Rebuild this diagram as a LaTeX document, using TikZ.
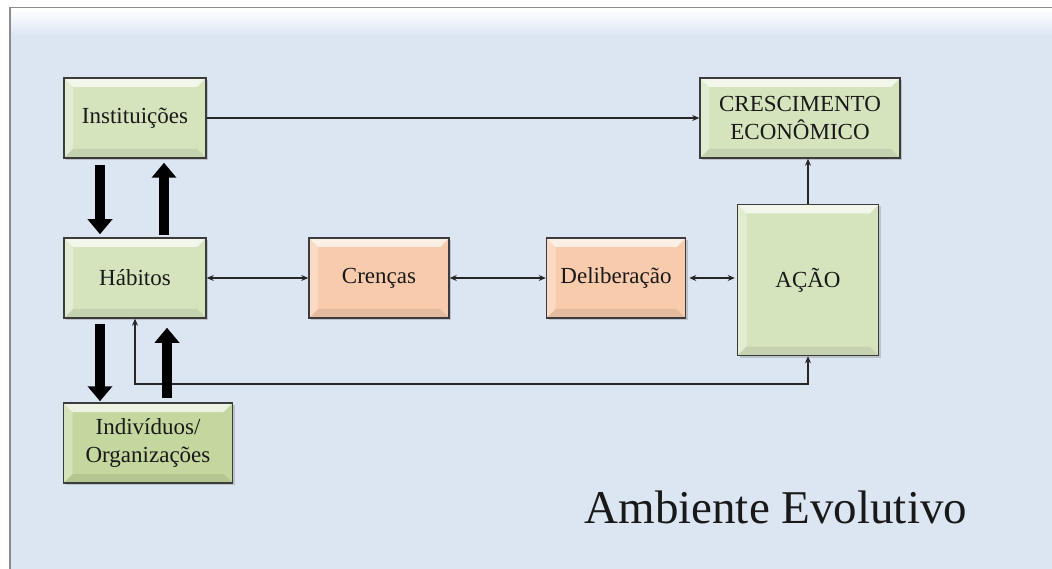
\documentclass[tikz,border=0pt]{standalone}
\usepackage{fontspec}
\setmainfont{Liberation Serif}
\usetikzlibrary{arrows.meta,shadows}
\definecolor{fundo}{RGB}{220,230,242}
\definecolor{verde}{RGB}{214,228,190}
\definecolor{verdeesc}{RGB}{196,215,158}
\definecolor{laranja}{RGB}{248,203,173}
\definecolor{borda}{RGB}{60,60,60}

\begin{document}
\begin{tikzpicture}[x=1pt, y=-1pt, >={Stealth[length=7pt,width=6pt]},
  box/.style={rectangle, draw=borda, line width=1.5pt, text=black!90, align=center,
    font=\fontsize{23}{28}\selectfont, inner sep=0pt, minimum height=80pt,
    drop shadow={opacity=0.35, shadow xshift=2pt, shadow yshift=-2pt},
    path picture={
      \fill[white, opacity=0.7] (path picture bounding box.north west) -- (path picture bounding box.north east)
        -- ([shift={(-9pt,-9pt)}]path picture bounding box.north east) -- ([shift={(9pt,-9pt)}]path picture bounding box.north west) -- cycle;
      \fill[white, opacity=0.3] (path picture bounding box.north west) -- ([shift={(9pt,-9pt)}]path picture bounding box.north west)
        -- ([shift={(9pt,9pt)}]path picture bounding box.south west) -- (path picture bounding box.south west) -- cycle;
      \fill[black, opacity=0.08] (path picture bounding box.south west) -- (path picture bounding box.south east)
        -- ([shift={(-9pt,9pt)}]path picture bounding box.south east) -- ([shift={(9pt,9pt)}]path picture bounding box.south west) -- cycle;}},
  greenbox/.style={box, fill=verde},
  orangebox/.style={box, fill=laranja},
  link/.style={draw=black!85, line width=1.2pt},
  bigarrow/.style={line width=10pt, -{Triangle[length=15pt,width=24pt]}}]
  \useasboundingbox (0,0) rectangle (1052,569);
  \fill[white] (0,0) rectangle (1052,569);
  \draw[fill=fundo, draw=black!45, line width=1.2pt] (10,8) rectangle (1070,590);
  \shade[top color=white, bottom color=fundo] (11,9) rectangle (1052,36);

  \node[greenbox, minimum width=142pt] (inst) at (135,118) {Instituições};
  \node[greenbox, minimum width=142pt] (hab) at (135,278) {Hábitos};
  \node[greenbox, fill=verdeesc, minimum width=169pt] (ind) at (148,443) {Indivíduos/\\Organizações};
  \node[orangebox, minimum width=140pt] (cren) at (379,278) {Crenças};
  \node[orangebox, minimum width=139pt] (delib) at (616,278) {Deliberação};
  \node[greenbox, minimum width=141pt, minimum height=151pt] (acao) at (808,280) {AÇÃO};
  \node[greenbox, minimum width=200pt] (cresc) at (800,118) {CRESCIMENTO\\ECONÔMICO};
  \node[anchor=base west, font=\fontsize{47}{56}\selectfont, text=black!90] (amb) at (581,523) {Ambiente Evolutivo};

  \draw[link, ->] (inst.east) -- (cresc.west);
  \draw[link, <->] (hab.east) -- (cren.west);
  \draw[link, <->] (cren.east) -- (delib.west);
  \draw[link, <->, shorten <=3pt, shorten >=2pt] (delib.east) -- (delib.east -| acao.west);
  \draw[link, ->] (acao.north) -- (acao.north |- cresc.south);
  \coordinate (fb) at (470,384);
  \draw[link, <->] (hab.south) |- (fb) -| (acao.south);

  \draw[bigarrow] ([xshift=-35pt, yshift=-6pt]inst.south) -- ([xshift=-35pt, yshift=3pt]hab.north);
  \draw[bigarrow] ([xshift=29pt, yshift=2pt]hab.north) -- ([xshift=29pt, yshift=-4pt]inst.south);
  \draw[bigarrow] ([xshift=-35pt, yshift=-5pt]hab.south) -- ([xshift=-48pt, yshift=1pt]ind.north);
  \draw[bigarrow] ([xshift=19pt, yshift=4pt]ind.north) -- ([xshift=32pt, yshift=-9pt]hab.south);
\end{tikzpicture}
\end{document}
